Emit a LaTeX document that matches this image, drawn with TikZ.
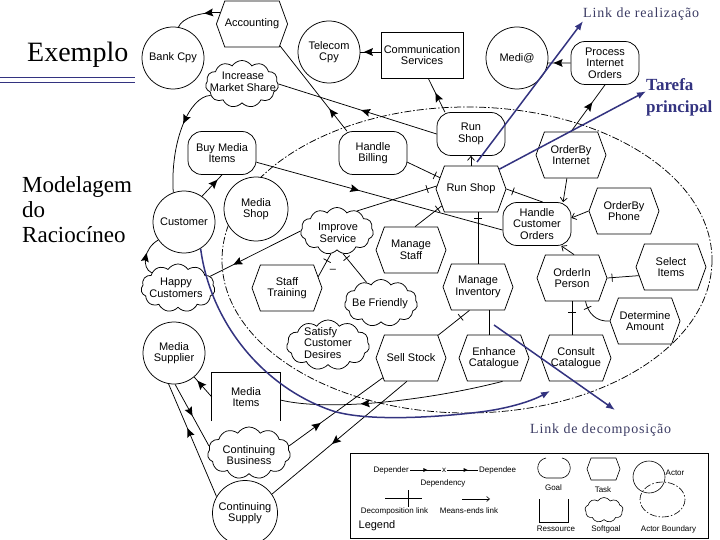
\documentclass[tikz,border=0pt]{standalone}
\usepackage{fontspec}
\setmainfont{Liberation Serif}
\newfontfamily\dfont{Liberation Sans}
\newfontfamily\annfont[LetterSpace=6]{Liberation Serif}
\usetikzlibrary{shapes.symbols,shapes.geometric,arrows.meta,decorations.markings}
\definecolor{navy}{RGB}{51,51,128}
\definecolor{anncol}{RGB}{60,60,100}
\begin{document}
\begin{tikzpicture}[x=1pt,y=-1pt,
  lab/.style={font=\dfont\fontsize{11}{11.5}\selectfont, align=center, inner sep=0pt},
  leg/.style={font=\dfont\fontsize{8}{9}\selectfont, inner sep=1pt},
  actor/.style={lab, circle, draw, line width=0.75pt, fill=white, minimum size=62pt},
  goal/.style={lab, rectangle, rounded corners=14pt, draw, line width=0.75pt, fill=white, minimum width=68pt, minimum height=43pt},
  task/.style={lab, signal, signal to=east and west, signal pointer angle=140, draw, line width=0.75pt, fill=white, minimum width=70pt, minimum height=46pt},
  soft/.style={cloud, cloud puffs=11, cloud puff arc=115, cloud ignores aspect, draw, line width=0.75pt, fill=white, minimum width=73pt, minimum height=47pt, inner sep=0pt},
  res/.style={lab, rectangle, minimum width=68pt, minimum height=48pt},
  link/.style={draw, line width=0.75pt},
  dep/.style={decoration={markings, mark=at position #1 with {\fill (4.5pt,0pt) -- (-4.5pt,4pt) -- (-3pt,0pt) -- (-4.5pt,-4pt) -- cycle;}}, postaction={decorate}},
  ldep/.style={decoration={markings, mark=at position #1 with {\fill (2pt,0pt) -- (-2pt,2pt) -- (-2pt,-2pt) -- cycle;}}, postaction={decorate}},
  dec/.style={decoration={markings, mark=at position #1 with {\draw[line width=0.75pt] (0pt,-4pt) -- (0pt,4pt);}}, postaction={decorate}},
  me/.style={-{Straight Barb[length=4pt,width=7pt]}},
  dashdot/.style={dash pattern=on 7pt off 2pt on 1.5pt off 2pt},
  ann/.style={navy, line width=1.5pt, -{Latex[length=9pt,width=7pt]}}
]
\useasboundingbox (0,0) rectangle (720,540);
\fill[white] (0,0) rectangle (720,540);

% actor boundary
\draw[dashdot, line width=0.75pt] (467,260) ellipse [x radius=245, y radius=153];

% nodes
\node[actor] (bank) at (173,58) {Bank Cpy};
\node[task] (acc) at (252,24) {Accounting};
\node[actor] (tel) at (329,52) {Telecom\\Cpy};
\node[res, draw, line width=0.75pt, fill=white, minimum width=82pt, minimum height=46pt] (comm) at (422,55) {Communication\\Services};
\node[actor] (medi) at (517,58) {Medi@};
\node[goal] (pio) at (605,63) {Process\\Internet\\Orders};
\node[soft] (ims) at (242,84) {};
\node[lab] (imst) at (243,82) {Increase\\Market Share};
\node[goal] (bmi) at (222,153) {Buy Media\\Items};
\node[goal] (hb) at (373,153) {Handle\\Billing};
\node[goal] (rsg) at (471,134) {Run\\Shop};
\node[task] (rst) at (471,189) {Run Shop};
\node[task] (obi) at (571,155) {OrderBy\\Internet};
\node[actor] (cust) at (184,222) {Customer};
\node[actor, minimum size=64pt] (mshop) at (256,209) {Media\\Shop};
\node[soft] (is) at (337,231) {};
\node[lab] (ist) at (338,233) {Improve\\Service};
\node[task] (mstaff) at (411,250) {Manage\\Staff};
\node[goal] (hco) at (537,224) {Handle\\Customer\\Orders};
\node[task] (obp) at (624,211) {OrderBy\\Phone};
\node[soft, minimum width=74pt, minimum height=48pt] (hc) at (178,288) {};
\node[lab] (hct) at (176,288) {Happy\\Customers};
\node[task] (st) at (287,288) {Staff\\Training};
\node[soft] (bf) at (381,303) {};
\node[lab] (bft) at (380,304) {Be Friendly};
\node[task] (minv) at (478,287) {Manage\\Inventory};
\node[task] (oip) at (572,278) {OrderIn\\Person};
\node[task] (si) at (671,267) {Select\\Items};
\node[task] (da) at (645,321) {Determine\\Amount};
\node[actor] (msup) at (174,353) {Media\\Supplier};
\node[soft, minimum width=83pt, minimum height=50pt] (scd) at (328,345) {};
\node[lab, align=left] (scdt) at (328,343) {Satisfy\\Customer\\Desires};
\node[task] (ss) at (411,358) {Sell Stock};
\node[task] (ec) at (494,358) {Enhance\\Catalogue};
\node[task] (cc) at (576,358) {Consult\\Catalogue};
\node[res] (mi) at (246,397) {Media\\Items};
\draw[line width=0.75pt] (mi.south west) -- (mi.north west) -- (mi.north east) -- (mi.south east);
\node[soft, minimum width=83pt, minimum height=52pt] (cb) at (249,453) {};
\node[lab] (cbt) at (249,455) {Continuing\\Business};
\node[actor, minimum size=65pt] (csup) at (245,513) {Continuing\\Supply};
\node[lab] (minus) at (333,271) {–};

% dependency links
\draw[link, dep=0.25] (acc.160) .. controls (200,12) and (182,18) .. (bank.80);
\draw[link, dep=0.22] (hb.140) -- (acc.-38);
\draw[link, dep=0.6] (comm.west |- tel) -- (tel.east);
\draw[link, dep=0.45] (rsg.140) -- (comm.-75);
\draw[link, dep=0.55] (pio.west) -- (medi.-9);
\draw[link, dep=0.55] (obi.north) -- (pio.south);
\draw[link, dep=0.45] (rsg.west) -- (ims.east);
\draw[link, dep=0.33] (ims.200) .. controls (190,96) and (170,140) .. (cust.110);
\draw[link, dep=0.62] (cust.55) -- (bmi.south);
\draw[link, dep=0.45] (hc.150) .. controls (141,268) and (144,248) .. (cust.215);
\draw[link, dep=0.7] (is.west) -- (hc.20);
\draw[link, dep=0.4] (bmi.-15) -- (hco.190);
\draw[link, dep=0.65] (mi.west) -- (msup.-50);
\draw[link, dep=0.45] (msup.-88) -- (cb.170);
\draw[link, dep=0.57] (csup.150) -- (msup.-100);
\draw[link, dep=0.3] (cb.10) -- (ss.-145);
\draw[link, dep=0.53] (ss.-100) -- (csup.35);
\draw[link, dep=0.62] (ec.-70) .. controls (430,400) and (330,412) .. (mi.-5);

% decomposition links
\draw[link, dec=0.85] (hb.-15) -- (rst.160);
\draw[link, dec=0.88] (is.45) -- (rst.175);
\draw[link, dec=0.85] (mstaff.80) -- (rst.-150);
\draw[link, dec=0.88] (minv.north) -- (minv.north |- rst.south);
\draw[link, dec=0.82] (hco.75) -- (rst.east);
\draw[link, dec=0.85] (si.195) -- (oip.east);
\draw[link, dec=0.8] (da.west) .. controls (596,322) and (588,313) .. (oip.-60);
\draw[link, dec=0.68] (oip.south |- cc.north) -- (oip.south);
\draw[link] (minv.-65) -- (minv.-65 |- ec.north);
\draw[link, dec=0.72] (ss.40) -- (minv.-110);
\draw[link, dec=0.3] (is.-105) -- (st.20);
\draw[link, dec=0.15] (is.-75) -- (bf.125);

% means-ends links
\draw[link, me] (rst.north) -- (rsg.south);
\draw[link, me] (obi.-100) -- (hco.40);
\draw[link, me] (obp.west) -- (hco.10);
\draw[link, me] (oip.85) -- (hco.-42);

% titles
\node[font=\fontsize{28}{30}\selectfont, anchor=base west, inner sep=0pt] (title) at (27,62) {Exemplo};
\draw[navy, line width=1pt] (0,78) -- (135,78);
\draw[navy, line width=1pt] (0,83) -- (135,83);
\node[font=\fontsize{23}{25}\selectfont, anchor=base west, inner sep=0pt] (m1) at (22,193) {Modelagem};
\node[font=\fontsize{23}{25}\selectfont, anchor=base west, inner sep=0pt] (m2) at (22,218) {do};
\node[font=\fontsize{23}{25}\selectfont, anchor=base west, inner sep=0pt] (m3) at (22,243) {Raciocíneo};

% annotations
\node[font=\annfont\fontsize{14}{16}\selectfont, text=anncol, anchor=base west, inner sep=0pt] (lrt) at (583,18) {Link de realização};
\node[font=\bfseries\fontsize{17}{20}\selectfont, text=navy, anchor=base west, inner sep=0pt] (tp1) at (646,91) {Tarefa};
\node[font=\bfseries\fontsize{17}{20}\selectfont, text=navy, anchor=base west, inner sep=0pt] (tp2) at (646,113) {principal};
\node[font=\annfont\fontsize{14}{16}\selectfont, text=anncol, anchor=base west, inner sep=0pt] (ldt) at (530,433) {Link de decomposição};
\coordinate (lr0) at (477,162);
\coordinate (ld0) at (494,325);
\coordinate (ld1) at (615,410);
\coordinate (arcE) at (550,391);
\draw[ann] (lr0) -- (lrt.south west);
\draw[ann] (rst.35) -- (tp1.south west);
\draw[ann] (ld0) -- (ld1);
\draw[ann] (cust.-58) .. controls (210,320) and (260,385) .. (330,410) .. controls (365,422.5) and (440,417) .. (480,412) .. controls (505,409) and (530,402) .. (arcE);

% legend
\draw[line width=0.8pt] (350,453) rectangle (708,538);
\node[leg, anchor=east] (lgdr) at (410,470) {Depender};
\node[leg] (lgx) at (444,470) {x};
\node[leg, anchor=west] (lgde) at (478,470) {Dependee};
\draw[line width=0.6pt, ldep=0.5] (lgdr.east) -- (lgx.west);
\draw[line width=0.6pt, ldep=0.6] (lgx.east) -- (lgde.west);
\node[leg] (lgdy) at (443,483) {Dependency};
\coordinate (lgd1) at (385,498);
\coordinate (lgd2) at (422,498);
\draw[line width=0.6pt] (lgd1) -- (lgd2);
\draw[line width=0.6pt] (408,490) -- (408,507);
\node[leg] (lgdl) at (394.5,511) {Decomposition link};
\coordinate (lgm1) at (462,499);
\coordinate (lgm2) at (490,499);
\draw[line width=0.6pt, -{Straight Barb[length=3pt,width=5pt]}] (lgm1) -- (lgm2);
\node[leg] (lgml) at (469,511) {Means-ends link};
\node[font=\dfont\fontsize{11}{12}\selectfont, inner sep=0pt] (lgt) at (377,526) {Legend};
\draw[line width=0.6pt] (546,458) .. controls (535,460) and (535,476) .. (546,478) -- (562,478) .. controls (573,476) and (573,460) .. (562,458);
\node[leg] (lgg) at (553.5,488) {Goal};
\draw[line width=0.6pt] (591,458) -- (616,458) -- (620,469) -- (616,480) -- (591,480) -- (587,469) -- cycle;
\node[leg] (lgtk) at (603,490) {Task};
\draw[line width=0.6pt] (649,477) circle [radius=16];
\draw[line width=0.6pt, dashdot] (662.5,499.5) ellipse [x radius=22.5, y radius=17.5];
\node[leg] (lga) at (675,473) {Actor};
\draw[line width=0.6pt] (539,499) -- (539,522) -- (568,522) -- (568,499);
\node[leg] (lgr) at (556,529) {Ressource};
\node[cloud, cloud puffs=9, cloud puff arc=115, cloud ignores aspect, draw, line width=0.6pt, minimum width=38pt, minimum height=25pt, inner sep=0pt] (lgs) at (604,510) {};
\node[leg] (lgsl) at (606,529) {Softgoal};
\node[leg] (lgab) at (668.5,529) {Actor Boundary};
\end{tikzpicture}
\end{document}
